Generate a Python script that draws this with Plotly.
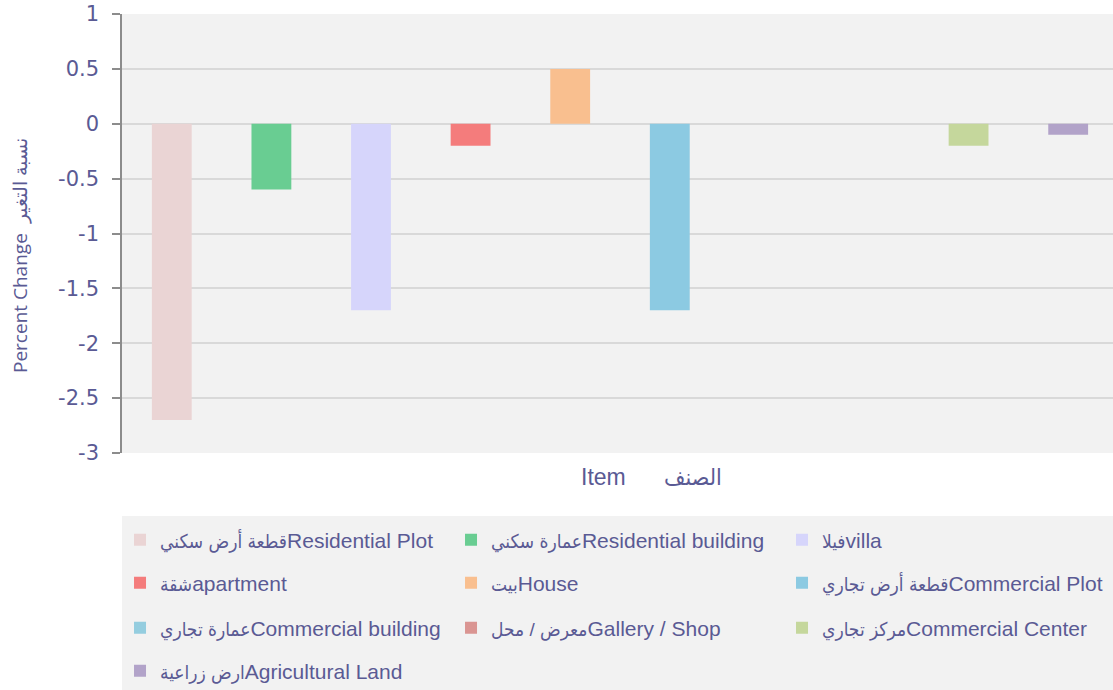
import plotly.graph_objects as go

# ---- data ----
items_en = ["Residential Plot", "Residential building", "villa", "apartment", "House",
            "Commercial Plot", "Commercial building", "Gallery / Shop", "Commercial Center",
            "Agricultural Land"]
items_ar = ["قطعة أرض سكني", "عمارة سكني", "فيلا", "شقة", "بيت",
            "قطعة أرض تجاري", "عمارة تجاري", "معرض / محل", "مركز تجاري", "ارض زراعية"]
values = [-2.7, -0.6, -1.7, -0.2, 0.5, -1.7, 0, 0, -0.2, -0.1]
colors = ["#ead4d4", "#69cd92", "#d6d5fb", "#f47c7c", "#f9bf8f",
          "#8ccae2", "#94cddf", "#da9592", "#c5d79c", "#b2a3c9"]
y_ticks = [1, 0.5, 0, -0.5, -1, -1.5, -2, -2.5, -3]

TEXT = "#5a5a94"
FONT = "Liberation Sans, Arial, DejaVu Sans Condensed, DejaVu Sans, sans-serif"

W, H = 1113, 690
L, T, B = 122, 14, 237
plot_h = H - T - B

def py(pix):
    return (H - B - pix) / plot_h

fig = go.Figure()
for i, (en, ar, v, c) in enumerate(zip(items_en, items_ar, values, colors)):
    row = i // 3
    fig.add_trace(go.Bar(
        x=[en], y=[v],
        name=f'<span style="font-size:19px">{ar}</span>{en}',
        marker=dict(color=c, line=dict(width=0)),
        width=0.4, legend="legend" if row == 0 else f"legend{row+1}",
    ))

legend_common = dict(
    orientation="h", x=-0.002, xanchor="left", yanchor="middle",
    font=dict(family=FONT, size=21, color=TEXT),
    bgcolor="rgba(0,0,0,0)", entrywidth=286, entrywidthmode="pixels",
    itemclick=False,
)
rows_y = [540, 583, 628, 671]
legends = {}
for r, yy in enumerate(rows_y):
    key = "legend" if r == 0 else f"legend{r+1}"
    legends[key] = dict(legend_common, y=py(yy))

fig.update_layout(
    width=W, height=H,
    margin=dict(l=L, r=0, t=T, b=B, pad=0, autoexpand=False),
    paper_bgcolor="white", plot_bgcolor="#f2f2f2",
    barmode="overlay",
    showlegend=True,
    font=dict(family=FONT, color=TEXT),
    xaxis=dict(
        type="category", range=[-0.5, 9.45], showticklabels=False, showgrid=False,
        zeroline=False, showline=False, ticks="",
    ),
    yaxis=dict(
        range=[-3, 1], tickvals=y_ticks, ticktext=[f"{t:g}" for t in y_ticks],
        showgrid=True, gridcolor="#d9d9d9", gridwidth=1.5,
        zeroline=False, showline=True, linecolor="#8c8c8c", linewidth=1.5,
        ticks="outside", ticklen=8, tickcolor="#8c8c8c", tickwidth=1.5,
        tickfont=dict(family="DejaVu Sans, sans-serif", size=21, color=TEXT), ticklabelstandoff=9,
    ),
    shapes=[dict(type="rect", xref="paper", yref="paper", x0=0, x1=1,
                 y0=py(516), y1=py(700), fillcolor="#f2f2f2", line=dict(width=0),
                 layer="below")],
    annotations=[
        dict(text="Percent Change\u00a0\u00a0نسبة التغير", textangle=-90, xref="paper", yref="paper",
             x=(20 - L) / (W - L), y=py(256), xanchor="center", yanchor="middle",
             showarrow=False, font=dict(family="Open Sans, sans-serif", size=19, color=TEXT)),
        dict(text="Item\u00a0\u00a0\u00a0\u00a0\u00a0\u00a0الصنف", xref="paper", yref="paper",
             x=(651 - L) / (W - L), y=py(477), xanchor="center", yanchor="middle",
             showarrow=False, font=dict(family=FONT, size=23, color=TEXT)),
    ],
    **legends,
)

fig.write_html("out.html", config={"displayModeBar": False},
               post_script="document.body.style.margin='0';document.body.style.overflow='hidden';")
